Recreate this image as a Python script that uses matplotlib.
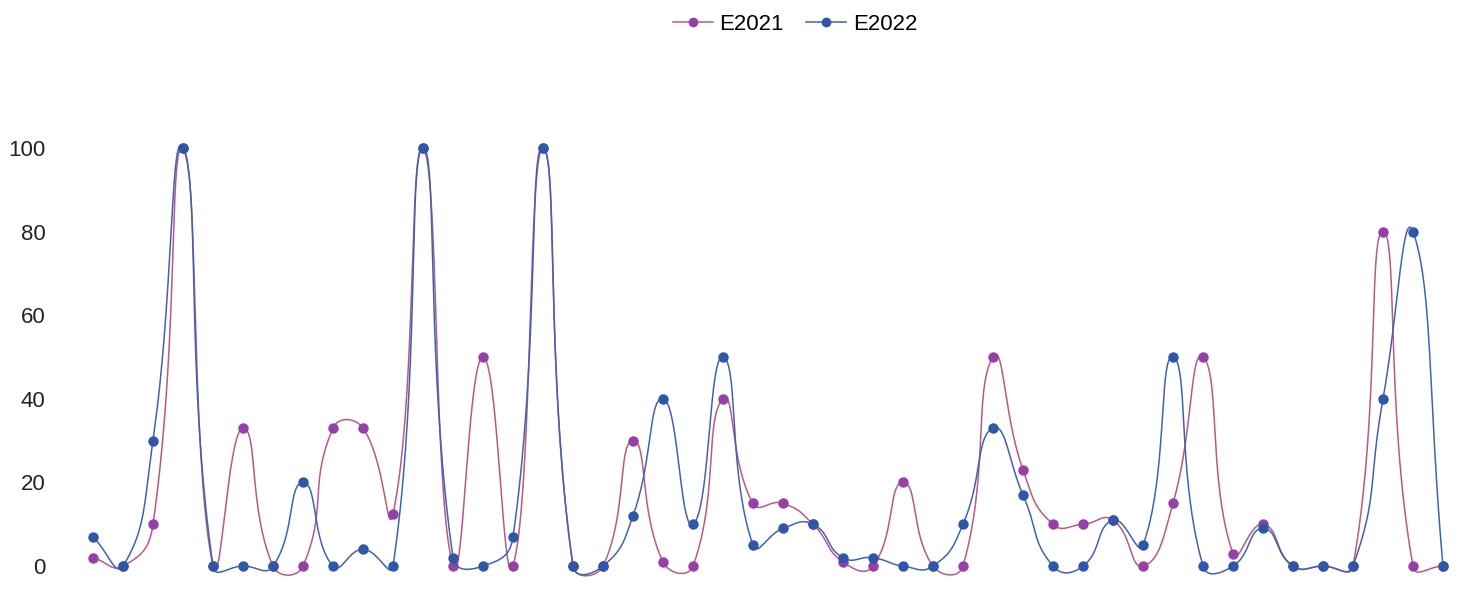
import numpy as np
import matplotlib
matplotlib.use("Agg")
import matplotlib.pyplot as plt
from matplotlib.lines import Line2D

plt.rcParams['font.family'] = ['Liberation Sans', 'DejaVu Sans']

series_names = ["E2021", "E2022"]
e2021 = [2, 0, 10, 100, 0, 33, 0, 0, 33, 33, 12.5, 100, 0, 50, 0, 100, 0, 0, 30, 1,
         0, 40, 15, 15, 10, 1, 0, 20, 0, 0, 50, 23, 10, 10, 11, 0, 15, 50, 3, 10,
         0, 0, 0, 80, 0, 0]
e2022 = [7, 0, 30, 100, 0, 0, 0, 20, 0, 4, 0, 100, 2, 0, 7, 100, 0, 0, 12, 40,
         10, 50, 5, 9, 10, 2, 2, 0, 0, 10, 33, 17, 0, 0, 11, 5, 50, 0, 0, 9,
         0, 0, 0, 40, 80, 0]
yticks = [0, 20, 40, 60, 80, 100]

colors_line = {"E2021": "#b85a82", "E2022": "#3f62b6"}
colors_marker = {"E2021": "#9440a8", "E2022": "#2f57a8"}


def smooth_bezier(pts, smooth=0.5, n=40):
    """Bezier smoothing of a polyline given in display (pixel) coordinates."""
    pts = np.asarray(pts, float)
    N = len(pts)
    cps_prev = np.zeros_like(pts)
    cps_next = np.zeros_like(pts)
    for i in range(N):
        p = pts[i]
        prev = pts[i - 1] if i > 0 else p
        nxt = pts[i + 1] if i < N - 1 else p
        v = nxt - prev
        d0 = np.hypot(*(p - prev))
        d1 = np.hypot(*(nxt - p))
        s = d0 + d1
        if s > 0:
            d0 /= s
            d1 /= s
        cps_prev[i] = p - v * smooth * d0
        cps_next[i] = p + v * smooth * d1
    t = np.linspace(0, 1, n)[:, None]
    out = []
    for i in range(N - 1):
        p0, p1, p2, p3 = pts[i], cps_next[i], cps_prev[i + 1], pts[i + 1]
        seg = ((1 - t) ** 3) * p0 + 3 * ((1 - t) ** 2) * t * p1 + 3 * (1 - t) * t ** 2 * p2 + t ** 3 * p3
        out.append(seg)
    return np.vstack(out)


fig = plt.figure(figsize=(14.6, 5.94), dpi=100)
ax = fig.add_axes([78 / 1460, 7 / 594, 1380 / 1460, 460 / 594])
ax.set_xlim(-0.5, 45.5)
ax.set_ylim(-5, 105)
x = np.arange(len(e2021))

handles = []
for name, vals, z in [("E2021", e2021, 2), ("E2022", e2022, 3)]:
    disp = ax.transData.transform(np.column_stack([x, vals]))
    curve_disp = smooth_bezier(disp, smooth=0.5)
    curve = ax.transData.inverted().transform(curve_disp)
    ax.plot(curve[:, 0], curve[:, 1], color=colors_line[name], lw=1.1, zorder=z, clip_on=False)
    ax.plot(x, vals, 'o', color=colors_marker[name], ms=7.5, zorder=z + 0.5,
            clip_on=False, markeredgewidth=0)
    handles.append(Line2D([0], [0], color=colors_line[name], lw=1.1, marker='o',
                          markerfacecolor=colors_marker[name], markeredgewidth=0,
                          ms=7))

ax.set_yticks(yticks)
ax.set_yticklabels([str(v) for v in yticks], fontsize=16, color="#222222")
ax.set_xticks([])
ax.tick_params(axis='y', length=0, pad=23.5)
for s in ax.spines.values():
    s.set_visible(False)

fig.legend(handles, series_names, loc='center', bbox_to_anchor=(795 / 1460, 1 - 24 / 594),
           ncol=2, frameon=False, fontsize=16, handlelength=1.8, handletextpad=0.3,
           columnspacing=1.0, borderpad=0.0)

fig.savefig("out.png", dpi=100)
